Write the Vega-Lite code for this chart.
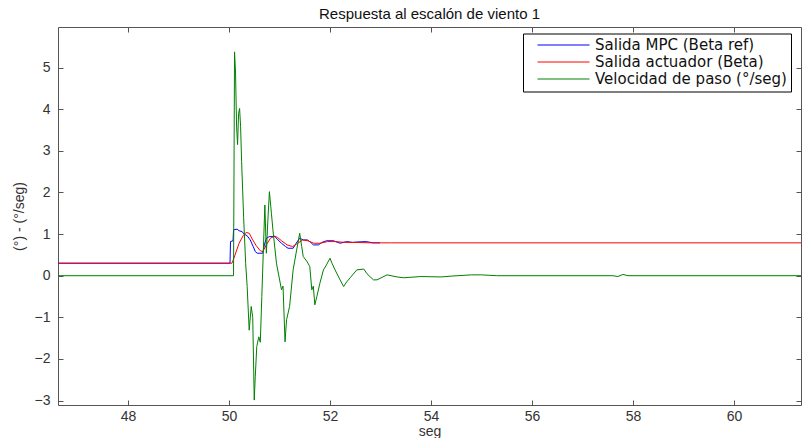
{
  "$schema": "https://vega.github.io/schema/vega-lite/v6.json",
  "width": 743,
  "height": 378,
  "autosize": {"type": "none"},
  "padding": {"left": 58, "top": 27, "right": 1, "bottom": 33},
  "background": "white",
  "title": {"text": "Respuesta al escalón de viento 1", "font": "Liberation Sans", "fontSize": 15, "fontWeight": "normal", "color": "#111", "offset": 5},
  "config": {
    "view": {"stroke": "#555", "strokeWidth": 1},
    "axis": {"grid": false, "domain": false, "tickSize": -5, "tickColor": "#555", "labelFont": "Liberation Sans", "labelFontSize": 14, "labelColor": "#333", "titleFont": "Liberation Sans", "titleFontSize": 14, "titleFontWeight": "normal", "titleColor": "#333"}
  },
  "datasets": {
    "series": [
      {"t": 46.61, "v": 0.3, "s": "Salida MPC (Beta ref)"},
      {"t": 50.02, "v": 0.3, "s": "Salida MPC (Beta ref)"},
      {"t": 50.03, "v": 0.82, "s": "Salida MPC (Beta ref)"},
      {"t": 50.08, "v": 0.84, "s": "Salida MPC (Beta ref)"},
      {"t": 50.09, "v": 1.1, "s": "Salida MPC (Beta ref)"},
      {"t": 50.16, "v": 1.12, "s": "Salida MPC (Beta ref)"},
      {"t": 50.2, "v": 1.08, "s": "Salida MPC (Beta ref)"},
      {"t": 50.26, "v": 1.06, "s": "Salida MPC (Beta ref)"},
      {"t": 50.3, "v": 1.0, "s": "Salida MPC (Beta ref)"},
      {"t": 50.36, "v": 0.96, "s": "Salida MPC (Beta ref)"},
      {"t": 50.42, "v": 0.86, "s": "Salida MPC (Beta ref)"},
      {"t": 50.48, "v": 0.7, "s": "Salida MPC (Beta ref)"},
      {"t": 50.52, "v": 0.58, "s": "Salida MPC (Beta ref)"},
      {"t": 50.56, "v": 0.54, "s": "Salida MPC (Beta ref)"},
      {"t": 50.67, "v": 0.54, "s": "Salida MPC (Beta ref)"},
      {"t": 50.7, "v": 0.74, "s": "Salida MPC (Beta ref)"},
      {"t": 50.74, "v": 0.9, "s": "Salida MPC (Beta ref)"},
      {"t": 50.8, "v": 0.94, "s": "Salida MPC (Beta ref)"},
      {"t": 50.91, "v": 0.94, "s": "Salida MPC (Beta ref)"},
      {"t": 50.97, "v": 0.86, "s": "Salida MPC (Beta ref)"},
      {"t": 51.04, "v": 0.78, "s": "Salida MPC (Beta ref)"},
      {"t": 51.12, "v": 0.7, "s": "Salida MPC (Beta ref)"},
      {"t": 51.17, "v": 0.66, "s": "Salida MPC (Beta ref)"},
      {"t": 51.27, "v": 0.66, "s": "Salida MPC (Beta ref)"},
      {"t": 51.33, "v": 0.78, "s": "Salida MPC (Beta ref)"},
      {"t": 51.4, "v": 0.9, "s": "Salida MPC (Beta ref)"},
      {"t": 51.47, "v": 0.86, "s": "Salida MPC (Beta ref)"},
      {"t": 51.55, "v": 0.86, "s": "Salida MPC (Beta ref)"},
      {"t": 51.62, "v": 0.8, "s": "Salida MPC (Beta ref)"},
      {"t": 51.67, "v": 0.74, "s": "Salida MPC (Beta ref)"},
      {"t": 51.77, "v": 0.74, "s": "Salida MPC (Beta ref)"},
      {"t": 51.84, "v": 0.8, "s": "Salida MPC (Beta ref)"},
      {"t": 51.93, "v": 0.84, "s": "Salida MPC (Beta ref)"},
      {"t": 52.07, "v": 0.84, "s": "Salida MPC (Beta ref)"},
      {"t": 52.2, "v": 0.78, "s": "Salida MPC (Beta ref)"},
      {"t": 52.33, "v": 0.82, "s": "Salida MPC (Beta ref)"},
      {"t": 52.45, "v": 0.8, "s": "Salida MPC (Beta ref)"},
      {"t": 52.53, "v": 0.81, "s": "Salida MPC (Beta ref)"},
      {"t": 52.72, "v": 0.82, "s": "Salida MPC (Beta ref)"},
      {"t": 52.85, "v": 0.79, "s": "Salida MPC (Beta ref)"},
      {"t": 52.99, "v": 0.79, "s": "Salida MPC (Beta ref)"},

      {"t": 46.61, "v": 0.3, "s": "Salida actuador (Beta)"},
      {"t": 50.06, "v": 0.3, "s": "Salida actuador (Beta)"},
      {"t": 50.12, "v": 0.5, "s": "Salida actuador (Beta)"},
      {"t": 50.2, "v": 0.78, "s": "Salida actuador (Beta)"},
      {"t": 50.28, "v": 0.96, "s": "Salida actuador (Beta)"},
      {"t": 50.34, "v": 1.04, "s": "Salida actuador (Beta)"},
      {"t": 50.4, "v": 1.02, "s": "Salida actuador (Beta)"},
      {"t": 50.46, "v": 0.88, "s": "Salida actuador (Beta)"},
      {"t": 50.54, "v": 0.72, "s": "Salida actuador (Beta)"},
      {"t": 50.62, "v": 0.6, "s": "Salida actuador (Beta)"},
      {"t": 50.67, "v": 0.58, "s": "Salida actuador (Beta)"},
      {"t": 50.74, "v": 0.74, "s": "Salida actuador (Beta)"},
      {"t": 50.82, "v": 0.9, "s": "Salida actuador (Beta)"},
      {"t": 50.9, "v": 0.95, "s": "Salida actuador (Beta)"},
      {"t": 50.96, "v": 0.92, "s": "Salida actuador (Beta)"},
      {"t": 51.04, "v": 0.84, "s": "Salida actuador (Beta)"},
      {"t": 51.15, "v": 0.74, "s": "Salida actuador (Beta)"},
      {"t": 51.26, "v": 0.7, "s": "Salida actuador (Beta)"},
      {"t": 51.36, "v": 0.78, "s": "Salida actuador (Beta)"},
      {"t": 51.46, "v": 0.86, "s": "Salida actuador (Beta)"},
      {"t": 51.56, "v": 0.84, "s": "Salida actuador (Beta)"},
      {"t": 51.68, "v": 0.78, "s": "Salida actuador (Beta)"},
      {"t": 51.8, "v": 0.78, "s": "Salida actuador (Beta)"},
      {"t": 51.95, "v": 0.82, "s": "Salida actuador (Beta)"},
      {"t": 52.1, "v": 0.82, "s": "Salida actuador (Beta)"},
      {"t": 52.3, "v": 0.8, "s": "Salida actuador (Beta)"},
      {"t": 52.5, "v": 0.8, "s": "Salida actuador (Beta)"},
      {"t": 52.8, "v": 0.79, "s": "Salida actuador (Beta)"},
      {"t": 53.2, "v": 0.79, "s": "Salida actuador (Beta)"},
      {"t": 61.33, "v": 0.79, "s": "Salida actuador (Beta)"},

      {"t": 46.61, "v": 0.0, "s": "Velocidad de paso (°/seg)"},
      {"t": 50.09, "v": 0.0, "s": "Velocidad de paso (°/seg)"},
      {"t": 50.11, "v": 5.38, "s": "Velocidad de paso (°/seg)"},
      {"t": 50.13, "v": 4.87, "s": "Velocidad de paso (°/seg)"},
      {"t": 50.15, "v": 3.6, "s": "Velocidad de paso (°/seg)"},
      {"t": 50.17, "v": 3.15, "s": "Velocidad de paso (°/seg)"},
      {"t": 50.19, "v": 3.9, "s": "Velocidad de paso (°/seg)"},
      {"t": 50.21, "v": 4.02, "s": "Velocidad de paso (°/seg)"},
      {"t": 50.23, "v": 3.58, "s": "Velocidad de paso (°/seg)"},
      {"t": 50.25, "v": 2.74, "s": "Velocidad de paso (°/seg)"},
      {"t": 50.29, "v": 1.4, "s": "Velocidad de paso (°/seg)"},
      {"t": 50.33, "v": 0.3, "s": "Velocidad de paso (°/seg)"},
      {"t": 50.36, "v": -0.26, "s": "Velocidad de paso (°/seg)"},
      {"t": 50.4, "v": -1.31, "s": "Velocidad de paso (°/seg)"},
      {"t": 50.44, "v": -0.74, "s": "Velocidad de paso (°/seg)"},
      {"t": 50.47, "v": -1.0, "s": "Velocidad de paso (°/seg)"},
      {"t": 50.5, "v": -2.99, "s": "Velocidad de paso (°/seg)"},
      {"t": 50.52, "v": -2.43, "s": "Velocidad de paso (°/seg)"},
      {"t": 50.55, "v": -1.7, "s": "Velocidad de paso (°/seg)"},
      {"t": 50.59, "v": -1.47, "s": "Velocidad de paso (°/seg)"},
      {"t": 50.62, "v": -1.6, "s": "Velocidad de paso (°/seg)"},
      {"t": 50.65, "v": -0.5, "s": "Velocidad de paso (°/seg)"},
      {"t": 50.68, "v": 0.6, "s": "Velocidad de paso (°/seg)"},
      {"t": 50.71, "v": 1.7, "s": "Velocidad de paso (°/seg)"},
      {"t": 50.74, "v": 0.54, "s": "Velocidad de paso (°/seg)"},
      {"t": 50.77, "v": 1.34, "s": "Velocidad de paso (°/seg)"},
      {"t": 50.8, "v": 2.02, "s": "Velocidad de paso (°/seg)"},
      {"t": 50.84, "v": 1.5, "s": "Velocidad de paso (°/seg)"},
      {"t": 50.87, "v": 1.1, "s": "Velocidad de paso (°/seg)"},
      {"t": 50.94, "v": 0.3, "s": "Velocidad de paso (°/seg)"},
      {"t": 51.04, "v": -0.34, "s": "Velocidad de paso (°/seg)"},
      {"t": 51.07, "v": -0.25, "s": "Velocidad de paso (°/seg)"},
      {"t": 51.11, "v": -1.59, "s": "Velocidad de paso (°/seg)"},
      {"t": 51.14, "v": -1.06, "s": "Velocidad de paso (°/seg)"},
      {"t": 51.2, "v": -0.74, "s": "Velocidad de paso (°/seg)"},
      {"t": 51.27, "v": 0.14, "s": "Velocidad de paso (°/seg)"},
      {"t": 51.34, "v": 0.62, "s": "Velocidad de paso (°/seg)"},
      {"t": 51.4, "v": 1.02, "s": "Velocidad de paso (°/seg)"},
      {"t": 51.44, "v": 0.7, "s": "Velocidad de paso (°/seg)"},
      {"t": 51.47, "v": 0.46, "s": "Velocidad de paso (°/seg)"},
      {"t": 51.54, "v": 0.35, "s": "Velocidad de paso (°/seg)"},
      {"t": 51.6, "v": 0.22, "s": "Velocidad de paso (°/seg)"},
      {"t": 51.64, "v": -0.34, "s": "Velocidad de paso (°/seg)"},
      {"t": 51.67, "v": -0.25, "s": "Velocidad de paso (°/seg)"},
      {"t": 51.7, "v": -0.7, "s": "Velocidad de paso (°/seg)"},
      {"t": 51.74, "v": -0.5, "s": "Velocidad de paso (°/seg)"},
      {"t": 51.8, "v": -0.18, "s": "Velocidad de paso (°/seg)"},
      {"t": 51.87, "v": 0.14, "s": "Velocidad de paso (°/seg)"},
      {"t": 51.93, "v": 0.26, "s": "Velocidad de paso (°/seg)"},
      {"t": 52.0, "v": 0.42, "s": "Velocidad de paso (°/seg)"},
      {"t": 52.04, "v": 0.3, "s": "Velocidad de paso (°/seg)"},
      {"t": 52.1, "v": 0.14, "s": "Velocidad de paso (°/seg)"},
      {"t": 52.2, "v": -0.1, "s": "Velocidad de paso (°/seg)"},
      {"t": 52.27, "v": -0.26, "s": "Velocidad de paso (°/seg)"},
      {"t": 52.33, "v": -0.15, "s": "Velocidad de paso (°/seg)"},
      {"t": 52.4, "v": -0.05, "s": "Velocidad de paso (°/seg)"},
      {"t": 52.53, "v": 0.14, "s": "Velocidad de paso (°/seg)"},
      {"t": 52.67, "v": 0.16, "s": "Velocidad de paso (°/seg)"},
      {"t": 52.73, "v": 0.05, "s": "Velocidad de paso (°/seg)"},
      {"t": 52.86, "v": -0.1, "s": "Velocidad de paso (°/seg)"},
      {"t": 52.93, "v": -0.1, "s": "Velocidad de paso (°/seg)"},
      {"t": 53.13, "v": 0.02, "s": "Velocidad de paso (°/seg)"},
      {"t": 53.33, "v": -0.03, "s": "Velocidad de paso (°/seg)"},
      {"t": 53.46, "v": -0.05, "s": "Velocidad de paso (°/seg)"},
      {"t": 53.8, "v": -0.02, "s": "Velocidad de paso (°/seg)"},
      {"t": 54.2, "v": -0.03, "s": "Velocidad de paso (°/seg)"},
      {"t": 54.4, "v": -0.01, "s": "Velocidad de paso (°/seg)"},
      {"t": 54.8, "v": 0.02, "s": "Velocidad de paso (°/seg)"},
      {"t": 55.0, "v": 0.02, "s": "Velocidad de paso (°/seg)"},
      {"t": 55.3, "v": 0.0, "s": "Velocidad de paso (°/seg)"},
      {"t": 57.6, "v": 0.0, "s": "Velocidad de paso (°/seg)"},
      {"t": 57.7, "v": -0.02, "s": "Velocidad de paso (°/seg)"},
      {"t": 57.8, "v": 0.03, "s": "Velocidad de paso (°/seg)"},
      {"t": 57.9, "v": 0.0, "s": "Velocidad de paso (°/seg)"},
      {"t": 61.33, "v": 0.0, "s": "Velocidad de paso (°/seg)"}
    ],
    "frame": [{"t": 48, "v": 0}]
  },
  "layer": [
    {
      "data": {"name": "series"},
      "mark": {"type": "line", "strokeWidth": 1, "clip": true},
      "encoding": {
        "x": {"field": "t", "type": "quantitative", "scale": {"domain": [46.614, 61.327], "nice": false, "zero": false},
              "axis": {"orient": "bottom", "values": [48, 50, 52, 54, 56, 58, 60], "title": "seg", "labelPadding": 9, "titleY": 19, "titleBaseline": "top"}},
        "y": {"field": "v", "type": "quantitative", "scale": {"domain": [-3.108, 5.978], "nice": false, "zero": false},
              "axis": {"orient": "left", "values": [-3, -2, -1, 0, 1, 2, 3, 4, 5], "title": "(°) - (°/seg)", "labelPadding": 13, "titlePadding": 8}},
        "color": {"field": "s", "type": "nominal",
                  "scale": {"domain": ["Salida MPC (Beta ref)", "Salida actuador (Beta)", "Velocidad de paso (°/seg)"], "range": ["#0000ff", "#ff0000", "#008000"]},
                  "legend": {"orient": "none", "legendX": 465, "legendY": 6.5, "title": null, "symbolType": "M-5.2,0H5.2", "symbolSize": 100, "symbolStrokeWidth": 1, "symbolFillColor": "transparent", "symbolOffset": 29, "labelOffset": 24, "labelLimit": 400, "labelFont": "DejaVu Sans", "labelFontSize": 15, "labelColor": "#111", "strokeColor": "#000", "fillColor": "white", "padding": 4, "rowPadding": 1,
                             "encode": {"symbols": {"update": {"stroke": {"signal": "datum.value === 'Salida MPC (Beta ref)' ? '#0000ff' : datum.value === 'Salida actuador (Beta)' ? '#ff0000' : '#008000'"}, "strokeWidth": {"value": 1}, "opacity": {"value": 1}}}}}}
      }
    },
    {
      "data": {"name": "frame"},
      "mark": {"type": "point", "opacity": 0},
      "encoding": {
        "x": {"field": "t", "type": "quantitative", "scale": {"domain": [46.614, 61.327], "nice": false, "zero": false},
              "axis": {"orient": "top", "values": [48, 50, 52, 54, 56, 58, 60], "labels": false, "title": null}},
        "y": {"field": "v", "type": "quantitative", "scale": {"domain": [-3.108, 5.978], "nice": false, "zero": false},
              "axis": {"orient": "right", "values": [-3, -2, -1, 0, 1, 2, 3, 4, 5], "labels": false, "title": null}}
      }
    }
  ],
  "resolve": {"scale": {"x": "independent", "y": "independent"}}
}
